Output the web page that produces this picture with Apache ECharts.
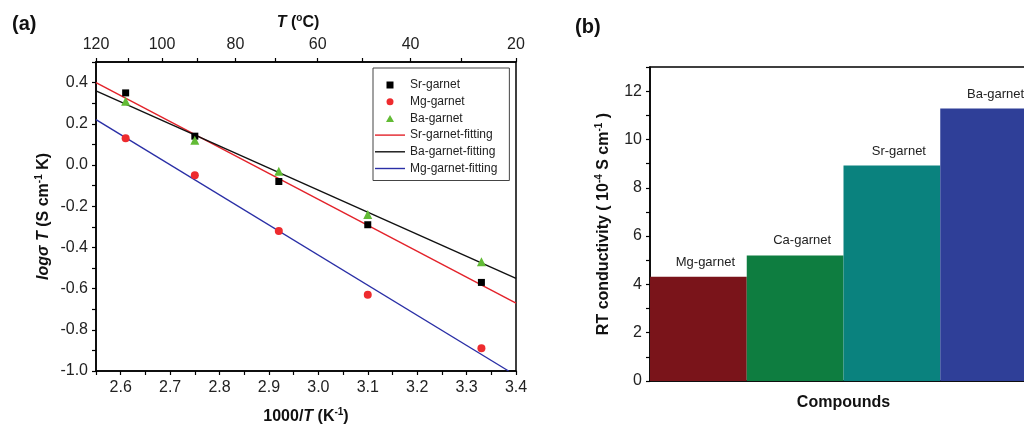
<!DOCTYPE html>
<html>
<head>
<meta charset="utf-8">
<script src="https://cdn.jsdelivr.net/npm/echarts@6/dist/echarts.min.js"></script>
<style>
  html, body { margin: 0; padding: 0; background: #fff; overflow: hidden; width: 1024px; height: 425px; }
  /* the right-hand panel runs past the page edge */
  #chart { width: 1040px; height: 425px; }
</style>
</head>
<body>
<div id="chart"></div>
<script>
// (a) Arrhenius plot: log(sigma*T) against 1000/T
const inverseT = [2.61, 2.75, 2.92, 3.10, 3.33];
const srGarnet = [0.35, 0.14, -0.08, -0.29, -0.57];
const mgGarnet = [0.13, -0.05, -0.32, -0.63, -0.89];
const baGarnet = [0.31, 0.12, -0.03, -0.24, -0.47];

// linear fits, given by their two end points
const srFitX = [2.55, 3.40];
const srFitY = [0.40, -0.67];
const baFitX = [2.55, 3.40];
const baFitY = [0.36, -0.55];
const mgFitX = [2.55, 3.385];
const mgFitY = [0.22, -1.00];

// secondary temperature axis (degrees Celsius)
const tempLabels = [120, 100, 80, 60, 40, 20];
const tempTicks = [120, 110, 100, 90, 80, 70, 60, 50, 40, 30, 20];

// (b) room-temperature conductivity
const compounds = ['Mg-garnet', 'Ca-garnet', 'Sr-garnet', 'Ba-garnet'];
const rtConductivity = [4.32, 5.20, 8.92, 11.28];
const barColors = ['#7a141a', '#0e7d40', '#0a827e', '#2f3f98'];

const FONT = '"Liberation Sans", Arial, Helvetica, sans-serif';
const toInv = c => 1000 / (c + 273.15);
const zip = (xs, ys) => xs.map((x, i) => [x, ys[i]]);

const axisLine = { show: true, onZero: false, lineStyle: { color: '#000', width: 1.5 } };
const tick = { show: true, inside: false, length: 4, lineStyle: { color: '#000', width: 1.2 } };
const tickLabel = { color: '#222', fontSize: 16, fontFamily: FONT };

const bold = { fontSize: 16, fontWeight: 'bold', fontFamily: FONT, color: '#111', lineHeight: 20 };
const boldIt = Object.assign({}, bold, { fontStyle: 'italic' });
const sup = { fontSize: 10, fontWeight: 'bold', fontFamily: FONT, color: '#111', lineHeight: 10, verticalAlign: 'top' };

// legend glyphs
const squareIcon = 'path://M0,0H1V1H0Z';
const triangleIcon = 'path://M0.5,0L1,0.87L0,0.87Z';
const lineIcon = 'path://M0,0H30V1.4H0Z';

const chart = echarts.init(document.getElementById('chart'), null, { renderer: 'canvas' });

chart.setOption({
  animation: false,
  backgroundColor: '#fff',
  title: [
    { text: '(a)', left: 7, top: 9, textStyle: { fontSize: 20, fontWeight: 'bold', fontFamily: FONT, color: '#111' } },
    { text: '(b)', left: 570, top: 12, textStyle: { fontSize: 20, fontWeight: 'bold', fontFamily: FONT, color: '#111' } }
  ],
  grid: [
    { left: 96, top: 62, width: 420, height: 309, outerBoundsMode: 'none', containLabel: false,
      show: true, borderColor: '#000', borderWidth: 1.5, backgroundColor: 'transparent' },
    { left: 650, top: 67, width: 387, height: 314, outerBoundsMode: 'none', containLabel: false,
      show: true, borderColor: '#000', borderWidth: 1.5, backgroundColor: 'transparent' }
  ],
  legend: {
    left: 373, top: 68,
    orient: 'vertical',
    itemWidth: 30, itemHeight: 7, itemGap: 2.7,
    padding: [10, 12, 5, 2],
    borderColor: '#444', borderWidth: 1,
    symbolKeepAspect: true,
    textStyle: { fontSize: 12, fontFamily: FONT, color: '#222', lineHeight: 14 },
    data: [
      { name: 'Sr-garnet', icon: squareIcon },
      { name: 'Mg-garnet', icon: 'circle' },
      { name: 'Ba-garnet', icon: triangleIcon },
      { name: 'Sr-garnet-fitting', icon: lineIcon },
      { name: 'Ba-garnet-fitting', icon: lineIcon },
      { name: 'Mg-garnet-fitting', icon: lineIcon }
    ]
  },
  xAxis: [
    {
      gridIndex: 0, type: 'value', position: 'bottom',
      min: 2.55, max: 3.4, interval: 0.05,
      axisLine, axisTick: tick, splitLine: { show: false },
      axisLabel: Object.assign({}, tickLabel, {
        margin: 9,
        formatter: v => (Math.round(v * 20) % 2 === 0 ? v.toFixed(1) : '')
      }),
      name: '{b|1000/}{bi|T}{b| (K}{s|-1}{b|)}',
      nameLocation: 'middle', nameGap: 36,
      nameTextStyle: { rich: { b: bold, bi: boldIt, s: sup } }
    },
    {
      gridIndex: 0, type: 'value', position: 'top',
      min: toInv(120), max: toInv(20),
      axisLine,
      axisTick: Object.assign({}, tick, { customValues: tempTicks.map(toInv) }),
      axisLabel: Object.assign({}, tickLabel, {
        margin: 9,
        customValues: tempLabels.map(toInv),
        formatter: v => String(Math.round(1000 / v - 273.15))
      }),
      splitLine: { show: false },
      name: '{bi|T}{b| (}{s|o}{b|C)}',
      nameLocation: 'middle', nameGap: 29,
      nameTextStyle: { padding: [0, 16, 0, 0], rich: { b: bold, bi: boldIt, s: sup } }
    },
    {
      gridIndex: 1, type: 'category', data: compounds,
      axisLine, axisTick: { show: false }, axisLabel: { show: false },
      name: 'Compounds', nameLocation: 'middle', nameGap: 14,
      nameTextStyle: { fontSize: 16, fontWeight: 'bold', fontFamily: FONT, color: '#111' }
    }
  ],
  yAxis: [
    {
      gridIndex: 0, type: 'value',
      min: -1.0, max: 0.5, interval: 0.1,
      axisLine, axisTick: tick, splitLine: { show: false },
      axisLabel: Object.assign({}, tickLabel, {
        margin: 8,
        formatter: v => {
          const k = Math.round(v * 10);
          return (k % 2 === 0) ? (k / 10).toFixed(1) : '';
        }
      }),
      name: '{bi|log\u03c3 T}{b| (S cm}{s|-1}{b| K)}',
      nameLocation: 'middle', nameGap: 42,
      nameTextStyle: { rich: { b: bold, bi: boldIt, s: sup } }
    },
    {
      gridIndex: 1, type: 'value',
      min: 0, max: 13, interval: 1,
      axisLine, axisTick: tick, splitLine: { show: false },
      axisLabel: Object.assign({}, tickLabel, {
        margin: 8,
        formatter: v => (Math.round(v) % 2 === 0 ? String(Math.round(v)) : '')
      }),
      name: '{b|RT conductivity ( 10}{s|-4}{b| S cm}{s|-1}{b| )}',
      nameLocation: 'middle', nameGap: 36,
      nameTextStyle: { rich: { b: bold, s: sup } }
    }
  ],
  series: [
    {
      name: 'Sr-garnet-fitting', type: 'line', xAxisIndex: 0, yAxisIndex: 0,
      data: zip(srFitX, srFitY), symbol: 'none',
      lineStyle: { color: '#e3222a', width: 1.4 }, itemStyle: { color: '#e3222a' }, z: 2
    },
    {
      name: 'Ba-garnet-fitting', type: 'line', xAxisIndex: 0, yAxisIndex: 0,
      data: zip(baFitX, baFitY), symbol: 'none',
      lineStyle: { color: '#111', width: 1.4 }, itemStyle: { color: '#111' }, z: 2
    },
    {
      name: 'Mg-garnet-fitting', type: 'line', xAxisIndex: 0, yAxisIndex: 0,
      data: zip(mgFitX, mgFitY), symbol: 'none',
      lineStyle: { color: '#2a2fa6', width: 1.4 }, itemStyle: { color: '#2a2fa6' }, z: 2
    },
    {
      name: 'Sr-garnet', type: 'scatter', xAxisIndex: 0, yAxisIndex: 0,
      data: zip(inverseT, srGarnet), symbol: 'rect', symbolSize: 7,
      itemStyle: { color: '#000', opacity: 1 }, z: 3
    },
    {
      name: 'Mg-garnet', type: 'scatter', xAxisIndex: 0, yAxisIndex: 0,
      data: zip(inverseT, mgGarnet), symbol: 'circle', symbolSize: 8,
      itemStyle: { color: '#ee2b2e', opacity: 1 }, z: 3
    },
    {
      name: 'Ba-garnet', type: 'scatter', xAxisIndex: 0, yAxisIndex: 0,
      data: zip(inverseT, baGarnet), symbol: 'triangle', symbolSize: 9,
      itemStyle: { color: '#62bb35', opacity: 1 }, z: 3
    },
    {
      name: 'RT conductivity', type: 'bar', xAxisIndex: 2, yAxisIndex: 1,
      barCategoryGap: '0%',
      data: rtConductivity.map((v, i) => ({ value: v, itemStyle: { color: barColors[i] } })),
      label: {
        show: true, position: 'top', distance: 8, offset: [7, 0],
        formatter: p => compounds[p.dataIndex],
        fontSize: 13, fontFamily: FONT, color: '#222'
      }
    }
  ]
});
</script>
</body>
</html>
